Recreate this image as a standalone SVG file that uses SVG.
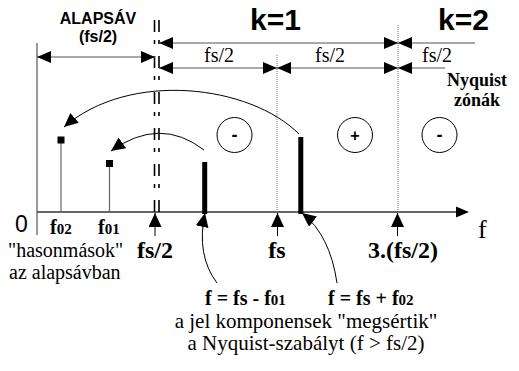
<svg xmlns="http://www.w3.org/2000/svg" width="519" height="371" viewBox="0 0 519 371">
<style>
.serif{font-family:"Liberation Serif","Times New Roman",serif;fill:#000}
.sans{font-family:"Liberation Sans",Arial,sans-serif;fill:#000}
.b{font-weight:bold}
.dim{stroke:#555;stroke-width:1.2;fill:none}
.arc{stroke:#000;stroke-width:1;fill:none}
.grid{stroke:#777;stroke-width:1;stroke-dasharray:1 1;fill:none}
.dd{stroke:#000;stroke-width:1.6;stroke-dasharray:12 8 4 12;fill:none}
.stem{stroke:#666;stroke-width:1.2}
.bar{stroke:#000;stroke-width:5}
.circ{stroke:#000;stroke-width:1;fill:none}
</style>
<defs>
<marker id="ah" markerUnits="userSpaceOnUse" markerWidth="16" markerHeight="12" refX="14" refY="6" orient="auto-start-reverse" viewBox="0 0 16 12">
<path d="M0,0 L14,6 L0,12 z" fill="#000"/>
</marker>
<marker id="ah2" markerUnits="userSpaceOnUse" markerWidth="16" markerHeight="14" refX="14" refY="6.5" orient="auto" viewBox="0 0 16 14">
<path d="M0,0 L14,6.5 L0,13 z" fill="#000"/>
</marker>
</defs>

<g id="axes">
<line x1="37" y1="43" x2="37" y2="235" stroke="#555" stroke-width="1.2"/>
<line x1="37" y1="212" x2="460" y2="212" stroke="#666" stroke-width="2"/>
<path d="M456,206.5 L469,212 L456,217.5 z" fill="#000"/>
<text class="sans" x="15" y="232" font-size="23">0</text>
<text class="serif" x="478" y="238" font-size="26">f</text>
</g>

<g id="boundaries">
<line class="dd" x1="154.5" y1="20" x2="154.5" y2="212"/>
<line class="dd" x1="159" y1="20" x2="159" y2="212"/>
<line class="grid" x1="277" y1="55" x2="277" y2="212"/>
<line class="grid" x1="398" y1="25" x2="398" y2="212"/>
</g>

<g id="connectors">
<line class="dim" x1="37" y1="57" x2="155" y2="57" marker-start="url(#ah)" marker-end="url(#ah)"/>
<line class="dim" x1="159" y1="43" x2="398" y2="43" marker-start="url(#ah)" marker-end="url(#ah)"/>
<line class="dim" x1="475" y1="43" x2="398" y2="43" marker-end="url(#ah)"/>
<line class="dim" x1="159" y1="68" x2="277" y2="68" marker-start="url(#ah)" marker-end="url(#ah)"/>
<line class="dim" x1="277" y1="68" x2="398" y2="68" marker-start="url(#ah)" marker-end="url(#ah)"/>
<line class="dim" x1="445" y1="68" x2="398" y2="68" marker-end="url(#ah)"/>
<path class="arc" d="M299,134 C250,85 130,70 64,127" marker-end="url(#ah2)"/>
<path class="arc" d="M204,150 Q160,116 111,151" marker-end="url(#ah2)"/>
<path class="arc" d="M217,283 Q196,255 205,213" marker-end="url(#ah2)"/>
<path class="arc" d="M337,283 Q330,235 302,213" marker-end="url(#ah2)"/>
<line x1="155" y1="236" x2="155" y2="213" stroke="#000" stroke-width="1" marker-end="url(#ah2)"/>
<line x1="277.5" y1="236" x2="277.5" y2="213" stroke="#000" stroke-width="1" marker-end="url(#ah2)"/>
<line x1="397.5" y1="236" x2="397.5" y2="213" stroke="#000" stroke-width="1" marker-end="url(#ah2)"/>
</g>

<g id="spectrum">
<line class="stem" x1="61" y1="140" x2="61" y2="212"/>
<rect x="57.5" y="136.5" width="7" height="7" fill="#000"/>
<line class="stem" x1="109.5" y1="163" x2="109.5" y2="212"/>
<rect x="106" y="160" width="7" height="7" fill="#000"/>
<line class="bar" x1="204.7" y1="162" x2="204.7" y2="214"/>
<line class="bar" x1="300.8" y1="137" x2="300.8" y2="214"/>
</g>

<g id="zone-signs">
<circle class="circ" cx="234.5" cy="135" r="17.5"/>
<text class="sans b" x="234.5" y="141" font-size="18" text-anchor="middle">-</text>
<circle class="circ" cx="355" cy="135" r="17.5"/>
<text class="sans b" x="355" y="141" font-size="16" text-anchor="middle">+</text>
<circle class="circ" cx="439.5" cy="135" r="17.5"/>
<text class="sans b" x="439.5" y="141" font-size="18" text-anchor="middle">-</text>
</g>

<g id="top-labels">
<text class="sans b" x="98" y="24" font-size="16" text-anchor="middle">ALAPSÁV</text>
<text class="sans b" x="98" y="42" font-size="16" text-anchor="middle">(fs/2)</text>
<text class="sans b" x="250" y="30" font-size="30">k=1</text>
<text class="sans b" x="438" y="30" font-size="30">k=2</text>
<text class="serif" x="219" y="62" font-size="20" text-anchor="middle">fs/2</text>
<text class="serif" x="330" y="62" font-size="20" text-anchor="middle">fs/2</text>
<text class="serif" x="437" y="62" font-size="20" text-anchor="middle">fs/2</text>
<text class="serif b" x="477" y="86" font-size="18" text-anchor="middle">Nyquist</text>
<text class="serif b" x="477" y="106" font-size="18" text-anchor="middle">zónák</text>
</g>

<g id="axis-labels">
<text class="serif b" x="50" y="234" font-size="20">f<tspan font-size="15">02</tspan></text>
<text class="serif b" x="98" y="234" font-size="20">f<tspan font-size="15">01</tspan></text>
<text class="serif b" x="155" y="258" font-size="24" text-anchor="middle">fs/2</text>
<text class="serif b" x="277" y="258" font-size="24" text-anchor="middle">fs</text>
<text class="serif b" x="403" y="258" font-size="24" text-anchor="middle">3.(fs/2)</text>
</g>

<g id="notes">
<text class="serif" x="8" y="257" font-size="20">"hasonmások"</text>
<text class="serif" x="9" y="279" font-size="20">az alapsávban</text>
<text class="serif b" x="205" y="305" font-size="20">f = fs - f<tspan font-size="15">01</tspan></text>
<text class="serif b" x="328" y="305" font-size="20">f = fs + f<tspan font-size="15">02</tspan></text>
<text class="serif" x="306" y="328" font-size="21" text-anchor="middle">a jel komponensek "megsértik"</text>
<text class="serif" x="306" y="350" font-size="21" text-anchor="middle">a Nyquist-szabályt (f &gt; fs/2)</text>
</g>
</svg>
